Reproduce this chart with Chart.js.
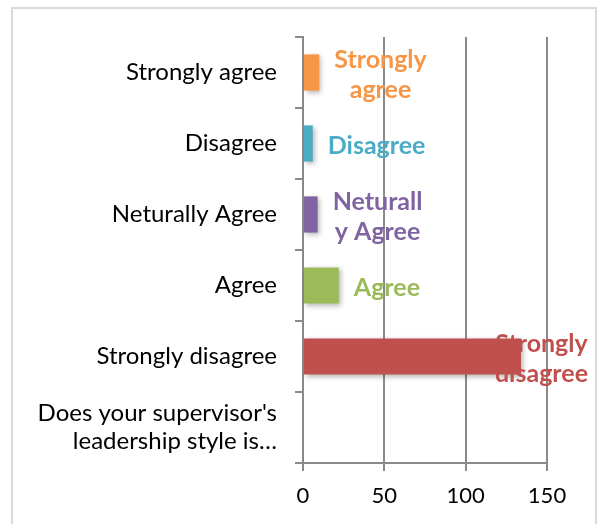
<!DOCTYPE html>
<html>
<head>
<meta charset="utf-8">
<script src="https://cdn.jsdelivr.net/npm/chart.js@4/dist/chart.umd.min.js"></script>
<style>
  html, body { margin: 0; padding: 0; background: #ffffff; }
  #wrap { position: relative; width: 597px; height: 524px; overflow: hidden; }
  #wrap canvas { position: absolute; left: 0; top: 0; }
  #frame {
    position: absolute; left: 11px; top: 7px; width: 582px; height: 540px;
    border: 2px solid #d9d9d9; border-bottom: none; pointer-events: none;
  }
</style>
</head>
<body>
<div id="wrap">
  <canvas id="chart" width="597" height="524"></canvas>
  <div id="frame"></div>
</div>
<script>
// Survey answers, top to bottom
const categories = [
  'Strongly agree',
  'Disagree',
  'Neturally Agree',
  'Agree',
  'Strongly disagree',
  ["Does your supervisor's", 'leadership style is…']
];
// Number of respondents per answer
const values = [10, 6, 9, 22, 134, null];
const barColors = ['#F79646', '#4BACC6', '#8064A2', '#9BBB59', '#C0504D', '#ffffff'];
// Bar labels as wrapped lines
const barLabels = [
  ['Strongly', 'agree'],
  ['Disagree'],
  ['Neturall', 'y Agree'],
  ['Agree'],
  ['Strongly', 'disagree'],
  null
];
const xTicks = [0, 50, 100, 150];

const FONT = 'Lato, "Liberation Sans", sans-serif';
const AXIS_GREY = '#8a8a8a';

// soft drop shadow under the bars
const barShadow = {
  id: 'barShadow',
  beforeDatasetsDraw(chart) {
    const ctx = chart.ctx;
    ctx.save();
    ctx.shadowColor = 'rgba(0,0,0,0.28)';
    ctx.shadowBlur = 5;
    ctx.shadowOffsetX = 2;
    ctx.shadowOffsetY = 2;
  },
  afterDatasetsDraw(chart) {
    chart.ctx.restore();
  }
};

// category-name labels to the right of each bar, kept inside the frame
const barNameLabels = {
  id: 'barNameLabels',
  afterDatasetsDraw(chart) {
    const ctx = chart.ctx;
    const meta = chart.getDatasetMeta(0);
    const rightLimit = 588;
    const lineH = 30;
    ctx.save();
    ctx.font = 'bold 25px ' + FONT;
    ctx.textAlign = 'center';
    ctx.textBaseline = 'middle';
    meta.data.forEach((el, i) => {
      const lines = barLabels[i];
      if (!lines || values[i] == null) return;
      const w = Math.max(...lines.map(t => ctx.measureText(t).width));
      let left = el.x + 15;
      if (left + w > rightLimit) left = rightLimit - w;
      const cx = left + w / 2;
      const y0 = el.y + 2 - (lines.length - 1) * lineH / 2;
      ctx.fillStyle = barColors[i];
      lines.forEach((t, k) => ctx.fillText(t, cx, y0 + k * lineH));
    });
    ctx.restore();
  }
};

new Chart(document.getElementById('chart'), {
  type: 'bar',
  data: {
    labels: categories,
    datasets: [{
      data: values,
      backgroundColor: barColors,
      borderWidth: 0,
      categoryPercentage: 1,
      barPercentage: 0.51
    }]
  },
  options: {
    indexAxis: 'y',
    responsive: false,
    animation: false,
    events: [],
    layout: { padding: { top: 37, right: 50, bottom: 0, left: 0 } },
    plugins: {
      legend: { display: false },
      tooltip: { enabled: false }
    },
    scales: {
      x: {
        type: 'linear',
        min: xTicks[0],
        max: xTicks[xTicks.length - 1],
        afterBuildTicks(scale) { scale.ticks = xTicks.map(v => ({ value: v })); },
        afterFit(scale) { scale.height = 61; },
        grid: { color: AXIS_GREY, lineWidth: 2, tickLength: 8 },
        border: { color: AXIS_GREY, width: 2 },
        ticks: {
          color: '#000000',
          padding: 12,
          font: { family: FONT, size: 22 }
        }
      },
      y: {
        type: 'category',
        afterFit(scale) {
          scale.width = 303;
          scale.paddingTop = 0;
          scale.paddingBottom = 0;
        },
        grid: { drawOnChartArea: false, offset: true, color: AXIS_GREY, lineWidth: 2, tickLength: 8 },
        border: { color: AXIS_GREY, width: 2 },
        ticks: {
          color: '#000000',
          padding: 18,
          font: { family: FONT, size: 24, lineHeight: 1.15 }
        }
      }
    }
  },
  plugins: [barShadow, barNameLabels]
});
</script>
</body>
</html>
